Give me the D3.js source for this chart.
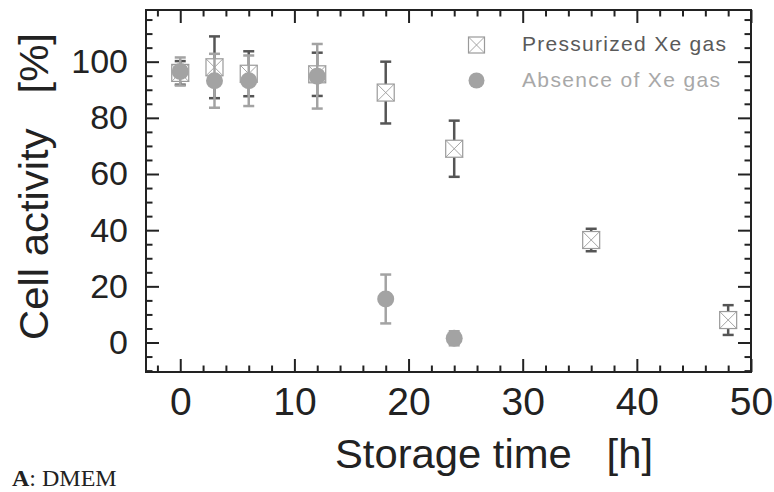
<!DOCTYPE html>
<html>
<head>
<meta charset="utf-8">
<script src="https://cdn.jsdelivr.net/npm/d3@7"></script>
<style>
  body { margin: 0; background: #fff; }
  svg { display: block; }
</style>
</head>
<body>
<script>
// values
const xeHours = [0, 3, 6, 12, 18, 24, 36, 48]
const xeMean = [96, 98, 95.7, 95.5, 89, 69, 36.5, 8]
const xeErr = [4.2, 11, 8, 7.7, 11, 10, 4, 5.3]

const noXeHours = [0, 3, 6, 12, 18, 24]
const noXeMean = [96.5, 93.2, 93.2, 94.8, 15.5, 1.5]
const noXeErr = [5, 9.6, 9, 11.5, 8.7, 2.5]

const xTicks = [0, 10, 20, 30, 40, 50]
const yTicks = [0, 20, 40, 60, 80, 100]
const seriesNames = ['Pressurized Xe gas', 'Absence of Xe gas']

let margin = { top: 10, right: 23, bottom: 120, left: 146 }
let width = 774 - margin.left - margin.right
let height = 492 - margin.top - margin.bottom

let x = d3.scaleLinear().domain([-3, 50]).range([0, width])
let y = d3.scaleLinear().domain([-10.5, 118.4]).range([height, 0])

let xMinor = d3.range(-2, 51, 2).filter(d => d % 10 !== 0)
let yMinor = d3.range(-10, 119, 5).filter(d => d % 20 !== 0 || d > 100 || d < 0)

const darkBar = '#555'
const lightGray = '#a3a3a3'
const boxGray = '#9a9a9a'

let svg = d3.select('body')
    .append('svg')
    .attr('width', 774)
    .attr('height', 492)
    .style('font-family', '"Liberation Sans", Arial, sans-serif')

let g = svg.append('g')
    .attr('transform', 'translate(' + margin.left + ',' + margin.top + ')')

// ticks on all four sides, pointing inward
function tickAxis(axis, values, size, labels) {
    let a = axis.tickValues(values).tickSize(size).tickSizeOuter(0)
    if (!labels) a.tickFormat('')
    return a
}

let bottom = g.append('g')
    .attr('transform', 'translate(0,' + height + ')')
    .call(tickAxis(d3.axisBottom(x), xTicks, -13, true).tickPadding(15))
g.append('g')
    .attr('transform', 'translate(0,' + height + ')')
    .call(tickAxis(d3.axisBottom(x), xMinor, -6.5, false))
g.append('g').call(tickAxis(d3.axisTop(x), xTicks, -13, false))
g.append('g').call(tickAxis(d3.axisTop(x), xMinor, -6.5, false))

let left = g.append('g')
    .call(tickAxis(d3.axisLeft(y), yTicks, -13, true).tickPadding(18))
g.append('g').call(tickAxis(d3.axisLeft(y), yMinor, -6.5, false))
g.append('g')
    .attr('transform', 'translate(' + width + ',0)')
    .call(tickAxis(d3.axisRight(y), yTicks, -13, false))
g.append('g')
    .attr('transform', 'translate(' + width + ',0)')
    .call(tickAxis(d3.axisRight(y), yMinor, -6.5, false))

g.selectAll('.domain').remove()
g.selectAll('.tick line').attr('stroke', '#222').attr('stroke-width', 2)

bottom.selectAll('text')
    .attr('fill', '#222')
    .style('font-size', '39px')
left.selectAll('text')
    .attr('fill', '#222')
    .style('font-size', '34px')

g.append('rect')
    .attr('width', width)
    .attr('height', height)
    .attr('fill', 'none')
    .attr('stroke', '#222')
    .attr('stroke-width', 2)

// error bars
function errorBars(hours, mean, err, color) {
    let rows = hours.map((h, i) => ({ h: h, m: mean[i], e: err[i] }))
    let eb = g.append('g')
        .attr('stroke', color)
        .attr('stroke-width', 2.5)
        .selectAll('g')
        .data(rows)
        .enter()
        .append('g')
    eb.append('line')
        .attr('x1', d => x(d.h)).attr('x2', d => x(d.h))
        .attr('y1', d => y(d.m - d.e)).attr('y2', d => y(d.m + d.e))
    eb.append('line')
        .attr('x1', d => x(d.h) - 5.5).attr('x2', d => x(d.h) + 5.5)
        .attr('y1', d => y(d.m + d.e)).attr('y2', d => y(d.m + d.e))
    eb.append('line')
        .attr('x1', d => x(d.h) - 5.5).attr('x2', d => x(d.h) + 5.5)
        .attr('y1', d => y(d.m - d.e)).attr('y2', d => y(d.m - d.e))
}

function crossBox(sel, s) {
    sel.append('rect')
        .attr('x', -s / 2).attr('y', -s / 2)
        .attr('width', s).attr('height', s)
        .attr('fill', '#fff')
        .attr('stroke', boxGray)
        .attr('stroke-width', 1.2)
    sel.append('path')
        .attr('d', 'M' + (-s / 2) + ',' + (-s / 2) + 'L' + (s / 2) + ',' + (s / 2) +
                   'M' + (s / 2) + ',' + (-s / 2) + 'L' + (-s / 2) + ',' + (s / 2))
        .attr('stroke', boxGray)
        .attr('stroke-width', 0.9)
}

errorBars(xeHours, xeMean, xeErr, darkBar)

g.append('g')
    .selectAll('g')
    .data(xeHours)
    .enter()
    .append('g')
    .attr('transform', (d, i) => 'translate(' + x(d) + ',' + y(xeMean[i]) + ')')
    .call(crossBox, 17)

errorBars(noXeHours, noXeMean, noXeErr, lightGray)

g.append('g')
    .selectAll('circle')
    .data(noXeHours)
    .enter()
    .append('circle')
    .attr('cx', d => x(d))
    .attr('cy', (d, i) => y(noXeMean[i]))
    .attr('r', 8.5)
    .attr('fill', lightGray)

// legend
let legend = svg.append('g')
legend.append('g')
    .attr('transform', 'translate(476.5,45)')
    .call(crossBox, 16)
legend.append('circle')
    .attr('cx', 476.5).attr('cy', 80.5).attr('r', 8)
    .attr('fill', lightGray)
legend.append('text')
    .attr('x', 522).attr('y', 51)
    .attr('textLength', 204).attr('lengthAdjust', 'spacing')
    .style('font-size', '21px')
    .attr('fill', '#5a5a5a')
    .text(seriesNames[0])
legend.append('text')
    .attr('x', 522).attr('y', 86.5)
    .attr('textLength', 198).attr('lengthAdjust', 'spacing')
    .style('font-size', '21px')
    .attr('fill', '#a8a8a8')
    .text(seriesNames[1])

// axis titles
svg.append('text')
    .attr('x', 335).attr('y', 468)
    .attr('textLength', 318).attr('lengthAdjust', 'spacingAndGlyphs')
    .style('font-size', '40px')
    .style('white-space', 'pre')
    .attr('fill', '#222')
    .text('Storage time   [h]')

svg.append('text')
    .attr('transform', 'translate(48,340) rotate(-90)')
    .attr('textLength', 307).attr('lengthAdjust', 'spacingAndGlyphs')
    .style('font-size', '40px')
    .style('white-space', 'pre')
    .attr('fill', '#222')
    .text('Cell activity   [%]')

// panel label
let panel = svg.append('text')
    .attr('x', 12).attr('y', 486)
    .style('font-family', '"Liberation Serif", "Times New Roman", serif')
    .style('font-size', '24px')
    .attr('fill', '#222')
panel.append('tspan').style('font-weight', 'bold').text('A')
panel.append('tspan').text(': DMEM')
</script>
</body>
</html>
